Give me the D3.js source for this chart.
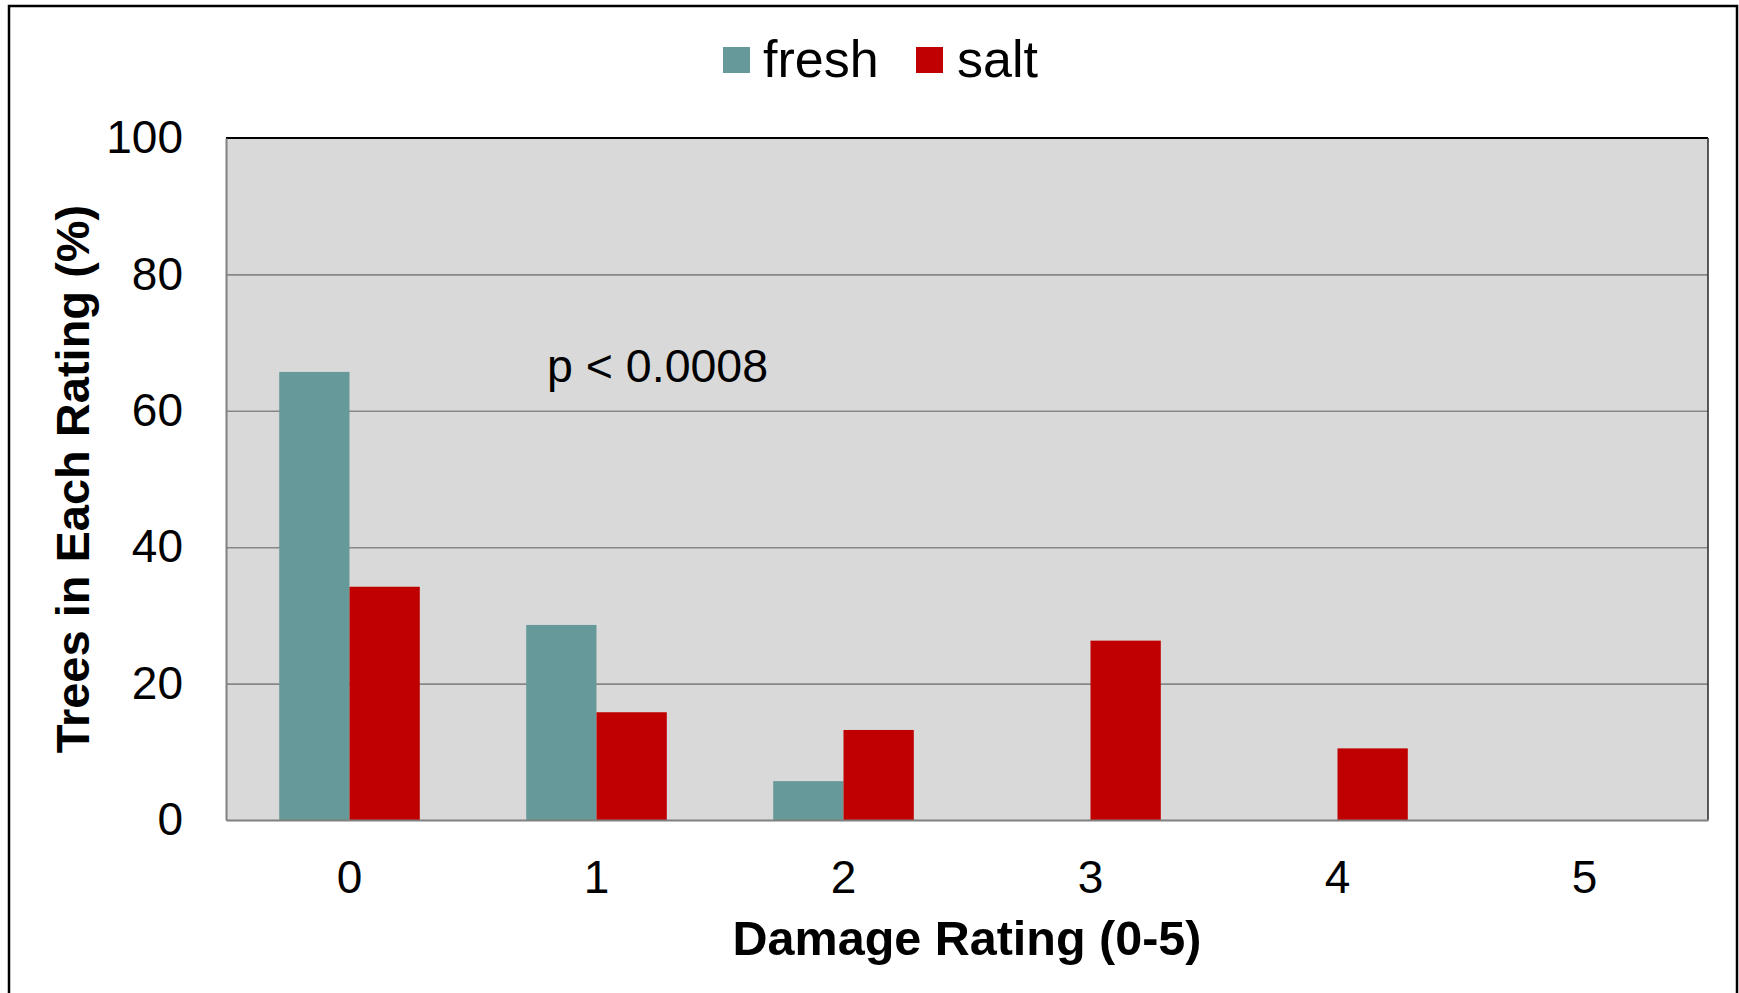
<!DOCTYPE html>
<html>
<head>
<meta charset="utf-8">
<script src="https://cdn.jsdelivr.net/npm/d3@7"></script>
<style>
  html, body { margin: 0; padding: 0; background: #ffffff; }
  svg { display: block; }
  text { font-family: "Liberation Sans", Arial, sans-serif; fill: #000; }
</style>
</head>
<body>
<script>
// ---- data ----
const categories = ["0", "1", "2", "3", "4", "5"];
const seriesNames = ["fresh", "salt"];
const freshValues = [65.7, 28.6, 5.7, 0, 0, 0];
const saltValues = [34.2, 15.8, 13.2, 26.3, 10.5, 0];
const yTicks = [0, 20, 40, 60, 80, 100];
const seriesColors = ["#669999", "#c00000"];
const xTitle = "Damage Rating (0-5)";
const yTitle = "Trees in Each Rating (%)";
const annotation = "p < 0.0008";

const W = 1739, H = 993;
const plot = { left: 226, right: 1708, top: 138, bottom: 820 };

const svg = d3.select("body").append("svg").attr("width", W).attr("height", H);

// outer frame
svg.append("rect").attr("x", 9).attr("y", 6).attr("width", 1728).attr("height", 1000)
  .attr("fill", "#fff").attr("stroke", "#000").attr("stroke-width", 2.5);

const x = d3.scaleBand().domain(categories).range([plot.left, plot.right]).padding(0);
const xs = d3.scaleBand().domain(seriesNames).range([0, x.bandwidth()]).paddingInner(0).paddingOuter(0.757);
const y = d3.scaleLinear().domain([0, 100]).range([plot.bottom, plot.top]);
const color = d3.scaleOrdinal().domain(seriesNames).range(seriesColors);

// plot background
svg.append("rect").attr("x", plot.left).attr("y", plot.top)
  .attr("width", plot.right - plot.left).attr("height", plot.bottom - plot.top)
  .attr("fill", "#d9d9d9");

// gridlines
const grid = svg.append("g").attr("transform", `translate(${plot.left},0)`)
  .call(d3.axisLeft(y).tickValues(yTicks.slice(1, -1)).tickSize(-(plot.right - plot.left)).tickFormat(""));
grid.select(".domain").remove();
grid.selectAll("line").attr("stroke", "#878787").attr("stroke-width", 1.6);

// bars
const rows = categories.map((c, i) => ({ cat: c, vals: [
  { key: "fresh", value: freshValues[i] },
  { key: "salt", value: saltValues[i] }
]}));
const groups = svg.append("g").selectAll("g").data(rows).join("g")
  .attr("transform", d => `translate(${x(d.cat)},0)`);
groups.selectAll("rect").data(d => d.vals.filter(v => v.value > 0)).join("rect")
  .attr("x", d => xs(d.key))
  .attr("width", xs.bandwidth())
  .attr("y", d => y(d.value))
  .attr("height", d => y(0) - y(d.value))
  .attr("fill", d => color(d.key));

// plot border
svg.append("line").attr("x1", plot.left).attr("x2", plot.right).attr("y1", plot.top).attr("y2", plot.top)
  .attr("stroke", "#000").attr("stroke-width", 2);
svg.append("line").attr("x1", plot.right).attr("x2", plot.right).attr("y1", plot.top).attr("y2", plot.bottom)
  .attr("stroke", "#333").attr("stroke-width", 1.6);

// y axis
const yAxis = svg.append("g").attr("transform", `translate(${plot.left},0)`)
  .call(d3.axisLeft(y).tickValues(yTicks).tickSize(0).tickPadding(43));
yAxis.select(".domain").attr("stroke", "#808080").attr("stroke-width", 2);
yAxis.selectAll("text").attr("font-size", 46).attr("font-family", "Liberation Sans, Arial, sans-serif").attr("fill", "#000");

// x axis
const xAxis = svg.append("g").attr("transform", `translate(0,${plot.bottom})`)
  .call(d3.axisBottom(x).tickSize(0).tickPadding(40));
xAxis.select(".domain").attr("stroke", "#808080").attr("stroke-width", 2);
xAxis.selectAll("text").attr("font-size", 46).attr("font-family", "Liberation Sans, Arial, sans-serif").attr("fill", "#000");

// axis titles
svg.append("text").attr("x", (plot.left + plot.right) / 2).attr("y", 955)
  .attr("text-anchor", "middle").attr("font-size", 48.5).attr("font-weight", "bold").text(xTitle);
svg.append("text").attr("transform", `translate(89,${(plot.top + plot.bottom) / 2}) rotate(-90)`)
  .attr("text-anchor", "middle").attr("font-size", 47).attr("font-weight", "bold").text(yTitle);

// annotation
svg.append("text").attr("x", 547).attr("y", 381.5)
  .attr("font-family", "'Open Sans', sans-serif").attr("font-size", 46.5).text(annotation);

// legend
const legendPos = [{ sx: 723, tx: 763 }, { sx: 916, tx: 957 }];
const legend = svg.append("g").selectAll("g").data(seriesNames).join("g");
legend.append("rect").attr("x", (d, i) => legendPos[i].sx).attr("y", 47)
  .attr("width", 27).attr("height", 26).attr("fill", d => color(d));
legend.append("text").attr("x", (d, i) => legendPos[i].tx).attr("y", 76.5)
  .attr("font-size", 52).text(d => d);
</script>
</body>
</html>
